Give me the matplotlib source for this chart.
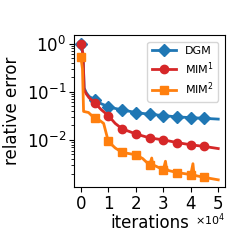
import matplotlib
matplotlib.use("Agg")
import matplotlib.pyplot as plt

# DGM
dgm_iters = [0, 800, 1200, 2000, 3000, 5000, 7500, 10000, 12500, 15000, 20000,
             25000, 30000, 35000, 40000, 45000, 50000]
dgm_err = [1.0, 0.6, 0.12, 0.095, 0.08, 0.068, 0.056, 0.049, 0.045, 0.042, 0.037,
           0.034, 0.032, 0.030, 0.029, 0.028, 0.027]

# MIM^1
mim1_iters = [0, 800, 1200, 2000, 3000, 5000, 7500, 10000, 12500, 15000, 20000,
              25000, 30000, 35000, 40000, 45000, 50000]
mim1_err = [1.0, 0.6, 0.11, 0.09, 0.075, 0.059, 0.042, 0.032, 0.022, 0.017, 0.0133,
            0.011, 0.010, 0.0088, 0.0079, 0.0073, 0.0066]

# MIM^2
mim2_iters = [0, 600, 1000, 2800, 5000, 7000, 8300, 9500, 10000, 12500, 15000,
              20000, 22500, 25000, 25800, 26200, 27000, 30000, 30800, 31200,
              32000, 35000, 40000, 40800, 41200, 42000, 45000, 50000]
mim2_err = [0.53, 0.3, 0.039, 0.037, 0.028, 0.025, 0.022, 0.012, 0.0093, 0.0068,
            0.0055, 0.0049, 0.0041, 0.003, 0.0042, 0.003, 0.0029, 0.0024, 0.0036,
            0.0025, 0.0023, 0.0021, 0.0019, 0.0032, 0.0019, 0.0018, 0.00166, 0.00148]

xtick_vals = [0, 10000, 20000, 30000, 40000, 50000]
xtick_labels = ['0', '1', '2', '3', '4', '5']
marker_step = 5000


def mark_idx(iters):
    return [i for i, v in enumerate(iters) if v % marker_step == 0 and v < 50000]


fig = plt.figure(figsize=(2.49, 2.49), dpi=100)
ax = fig.add_axes([0.297, 0.249, 0.607, 0.61])

ax.semilogy(dgm_iters, dgm_err, color='#1f77b4', marker='D', ms=6, lw=2,
            markevery=mark_idx(dgm_iters), label='DGM')
ax.semilogy(mim1_iters, mim1_err, color='#d62728', marker='o', ms=6, lw=2,
            markevery=mark_idx(mim1_iters), label='MIM$^1$')
ax.semilogy(mim2_iters, mim2_err, color='#ff7f0e', marker='s', ms=6, lw=2,
            markevery=mark_idx(mim2_iters), label='MIM$^2$')

ax.set_ylim(1.05e-3, 1.5)
ax.set_xlim(-2500, 52500)
ax.set_xticks(xtick_vals)
ax.set_xticklabels(xtick_labels)
ax.tick_params(labelsize=12, pad=2)
ax.text(0.80, -0.215, r'$\times10^{4}$', transform=ax.transAxes,
        fontsize=8, ha='left', va='center')
ax.set_xlabel('iterations', fontsize=12, labelpad=1)
ax.set_ylabel('relative error', fontsize=12)
ax.legend(loc='upper right', fontsize=8, handlelength=2.2, borderaxespad=0.6,
          labelspacing=0.35)

fig.savefig('out.png', dpi=100)
